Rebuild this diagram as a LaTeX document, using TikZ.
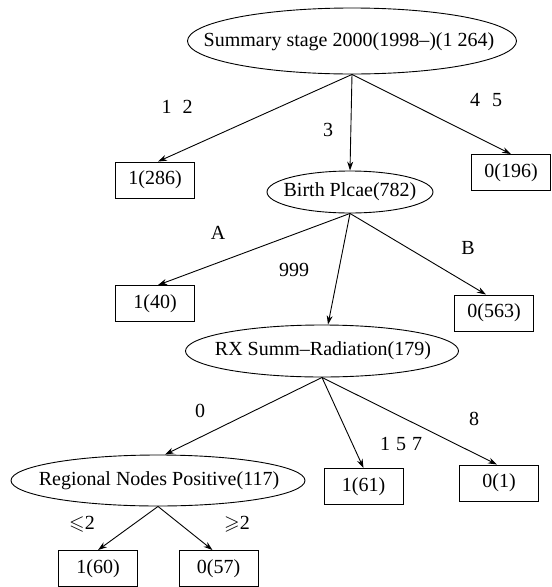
\documentclass[tikz,border=0pt]{standalone}
\usepackage{fontspec}
\usepackage{amssymb}
\setmainfont{Liberation Serif}
\usetikzlibrary{shapes.geometric,arrows.meta}
\begin{document}
\begin{tikzpicture}[x=1pt,y=-1pt,
  every node/.style={font=\rmfamily\fontsize{20}{24}\selectfont, inner sep=0pt},
  oval/.style={draw, ellipse, line width=0.9pt},
  leaf/.style={draw, rectangle, line width=0.9pt, minimum width=79pt, minimum height=36pt},
  arr/.style={line width=0.9pt, -{Stealth[length=9pt,width=6pt]}}]
\useasboundingbox (0,0) rectangle (552,587);
% nodes
\node[oval, minimum width=329pt, minimum height=66pt] (root) at (352,41) {};
\node (roott) at (349,42) {Summary stage 2000(1998–)(1 264)};
\node[leaf] (n286) at (155,180) {1(286)};
\node[oval, minimum width=166pt, minimum height=42pt] (birth) at (350,192) {};
\node (birtht) at (350,192) {Birth Plcae(782)};
\node[leaf] (n196) at (511,172.5) {0(196)};
\node[leaf] (n40) at (155,303.5) {1(40)};
\node[leaf] (n563) at (494,313) {0(563)};
\node[oval, minimum width=273pt, minimum height=52pt] (rx) at (322,351) {};
\node (rxt) at (323,351) {RX Summ–Radiation(179)};
\node[oval, minimum width=294pt, minimum height=51pt] (reg) at (158,480.5) {};
\node (regt) at (159,480.5) {Regional Nodes Positive(117)};
\node[leaf] (n61) at (363.5,486.5) {1(61)};
\node[leaf] (n1) at (499,483) {0(1)};
\node[leaf] (n60) at (98,568.5) {1(60)};
\node[leaf] (n57) at (218.5,568.5) {0(57)};
% labels
\node (l12) at (177,107) {1\hspace{11pt}2};
\node (l3) at (328,130) {3};
\node (l45) at (486,100) {4\hspace{12pt}5};
\node (lA) at (218,233) {A};
\node (l999) at (294,270) {999};
\node (lB) at (468,248) {B};
\node (l0) at (200,411) {0};
\node (l157) at (401,444) {1\hspace{6pt}5\hspace{6pt}7};
\node (l8) at (474,419) {8};
\node (lle) at (82,524) {$\leqslant$2};
\node (lge) at (237,524) {$\geqslant$2};
% connectors
\draw[arr] (root.south) -- ([xshift=3pt]n286.north);
\draw[arr] (root.south) -- (birth.north);
\draw[arr] (root.south) -- (n196.north);
\draw[arr] (birth.south) -- ([xshift=3pt]n40.north);
\draw[arr] (birth.south) -- ([xshift=6pt]rx.north);
\draw[arr] (birth.south) -- ([xshift=-8pt]n563.north);
\draw[arr] (rx.south) -- ([xshift=7pt]reg.north);
\draw[arr] (rx.south) -- (n61.north);
\draw[arr] (rx.south) -- ([xshift=-2pt]n1.north);
\draw[arr] (reg.south) -- (n60.north);
\draw[arr] (reg.south) -- ([xshift=-6pt]n57.north);
\end{tikzpicture}
\end{document}
